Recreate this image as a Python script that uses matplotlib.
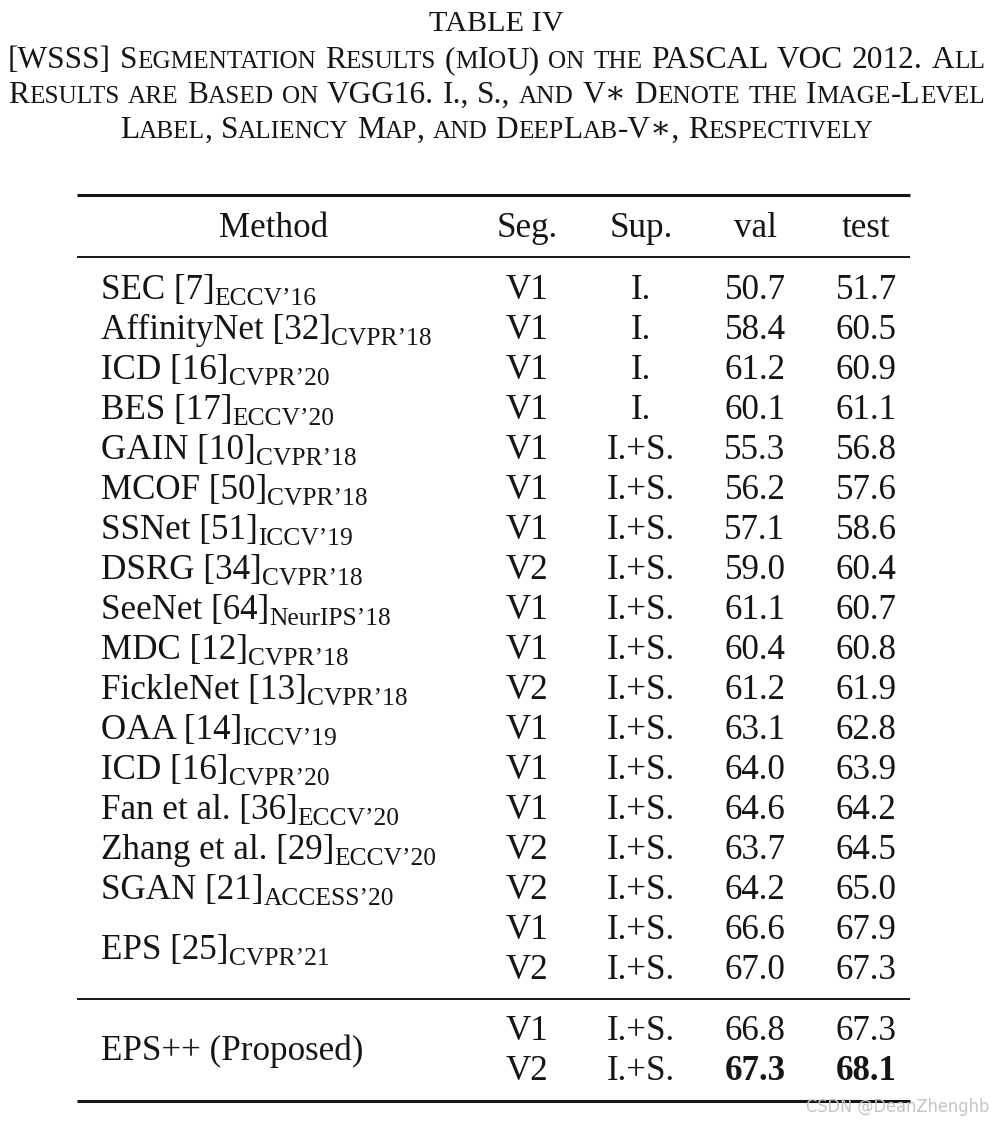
import matplotlib
matplotlib.use('Agg')
import matplotlib.pyplot as plt
from matplotlib.font_manager import FontProperties

SERIF = ['Liberation Serif', 'DejaVu Serif']
plt.rcParams['font.family'] = SERIF

# table content
methods = ['SEC [7]', 'AffinityNet [32]', 'ICD [16]', 'BES [17]', 'GAIN [10]',
           'MCOF [50]', 'SSNet [51]', 'DSRG [34]', 'SeeNet [64]', 'MDC [12]',
           'FickleNet [13]', 'OAA [14]', 'ICD [16]', 'Fan et al. [36]',
           'Zhang et al. [29]', 'SGAN [21]', 'EPS [25]', 'EPS++ (Proposed)']
venues = ['ECCV’16', 'CVPR’18', 'CVPR’20', 'ECCV’20', 'CVPR’18', 'CVPR’18',
          'ICCV’19', 'CVPR’18', 'NeurIPS’18', 'CVPR’18', 'CVPR’18', 'ICCV’19',
          'CVPR’20', 'ECCV’20', 'ECCV’20', 'ACCESS’20', 'CVPR’21', '']
spans = [1] * 16 + [2, 2]

seg = ['V1', 'V1', 'V1', 'V1', 'V1', 'V1', 'V1', 'V2', 'V1', 'V1',
       'V2', 'V1', 'V1', 'V1', 'V2', 'V2', 'V1', 'V2', 'V1', 'V2']
sup = ['I.', 'I.', 'I.', 'I.'] + ['I.+S.'] * 16
val = ['50.7', '58.4', '61.2', '60.1', '55.3', '56.2', '57.1', '59.0', '61.1', '60.4',
       '61.2', '63.1', '64.0', '64.6', '63.7', '64.2', '66.6', '67.0', '66.8', '67.3']
test = ['51.7', '60.5', '60.9', '61.1', '56.8', '57.6', '58.6', '60.4', '60.7', '60.8',
        '61.9', '62.8', '63.9', '64.2', '64.5', '65.0', '67.9', '67.3', '67.3', '68.1']
bold_rows = [19]

headers = ['Method', 'Seg.', 'Sup.', 'val', 'test']

title = 'TABLE IV'
caption = ['[WSSS] Segmentation Results (mIoU) on the PASCAL VOC 2012. All',
           'Results are Based on VGG16. I., S., and V∗ Denote the Image-Level',
           'Label, Saliency Map, and DeepLab-V∗, Respectively']

W, H = 993, 1122
fig = plt.figure(figsize=(W / 100, H / 100), dpi=100)
ax = fig.add_axes([0, 0, 1, 1])
ax.set_xlim(0, W)
ax.set_ylim(H, 0)
ax.axis('off')
renderer = fig.canvas.get_renderer()
ink = '#151515'


def raw_w(s, size, weight='normal'):
    fp = FontProperties(family=SERIF, size=size, weight=weight)
    w, h, d = renderer.get_text_width_height_descent(s, fp, ismath=False)
    return w


def text_w(s, size, weight='normal'):
    # advance width: wrap in bars so side bearings are counted
    return raw_w('|' + s + '|', size, weight) - raw_w('||', size, weight)


def sc_runs(word, big, small):
    runs = []
    for ch in word:
        size = small if ch.islower() else big
        if runs and runs[-1][1] == size:
            runs[-1][0] += ch.upper()
        else:
            runs.append([ch.upper(), size])
    return runs


def draw_smallcaps(y, line, big, small, x0=None, x1=None, center=None):
    words = [sc_runs(wd, big, small) for wd in line.split(' ')]
    wws = [sum(text_w(s, sz) for s, sz in wd) for wd in words]
    if center is None:
        gap = (x1 - x0 - sum(wws)) / (len(words) - 1)
        x = x0
    else:
        gap = text_w(' ', big)
        x = center - (sum(wws) + gap * (len(words) - 1)) / 2
    for wd, ww in zip(words, wws):
        xx = x
        for s, sz in wd:
            ax.text(xx, y, s, fontsize=sz, ha='left', va='baseline', color=ink)
            xx += text_w(s, sz)
        x += ww + gap


# caption
big, small = 22.6, 18.2
ax.text(W / 2, 31, title, fontsize=21.8, ha='center', va='baseline', color=ink)
draw_smallcaps(68, caption[0], big, small, x0=8, x1=985)
draw_smallcaps(103, caption[1], big, small, x0=8, x1=985)
draw_smallcaps(138, caption[2], big, small, center=W / 2)

# table geometry
fs, sub_fs = 25.2, 18.4
x_left, x_right = 77, 910
x_method = 101
col_x = [274, 527, 641, 755, 866]

ax.plot([x_left, x_right], [195, 195], color=ink, lw=2.2, solid_capstyle='butt')
ax.plot([x_left, x_right], [257, 257], color=ink, lw=1.4, solid_capstyle='butt')
ax.plot([x_left, x_right], [999, 999], color=ink, lw=1.4, solid_capstyle='butt')
ax.plot([x_left, x_right], [1101, 1101], color=ink, lw=2.2, solid_capstyle='butt')

for cx, h in zip(col_x, headers):
    ax.text(cx, 237, h, fontsize=fs, ha='center', va='baseline', color=ink)

row_base = []
for i in range(len(seg)):
    y = 299 + 40 * i
    if i >= 18:
        y += 21
    row_base.append(y)

for i in range(len(seg)):
    y = row_base[i]
    wt = 'bold' if i in bold_rows else 'normal'
    ax.text(col_x[1], y, seg[i], fontsize=fs, ha='center', va='baseline', color=ink)
    ax.text(col_x[2], y, sup[i], fontsize=fs, ha='center', va='baseline', color=ink)
    ax.text(col_x[3], y, val[i], fontsize=fs, ha='center', va='baseline', color=ink, weight=wt)
    ax.text(col_x[4], y, test[i], fontsize=fs, ha='center', va='baseline', color=ink, weight=wt)

r = 0
for m, v, n in zip(methods, venues, spans):
    y = sum(row_base[r:r + n]) / n
    ax.text(x_method, y, m, fontsize=fs, ha='left', va='baseline', color=ink)
    if v:
        xs = x_method + text_w(m, fs)
        ax.text(xs, y + 6, v, fontsize=sub_fs, ha='left', va='baseline', color=ink)
    r += n

# watermark
ax.text(989, 1112, 'CSDN @DeanZhenghb', fontsize=13, ha='right', va='baseline',
        color='#c4c4c4', family=['Liberation Sans Narrow', 'DejaVu Sans'],
        stretch='condensed')

fig.savefig('out.png', dpi=100)
